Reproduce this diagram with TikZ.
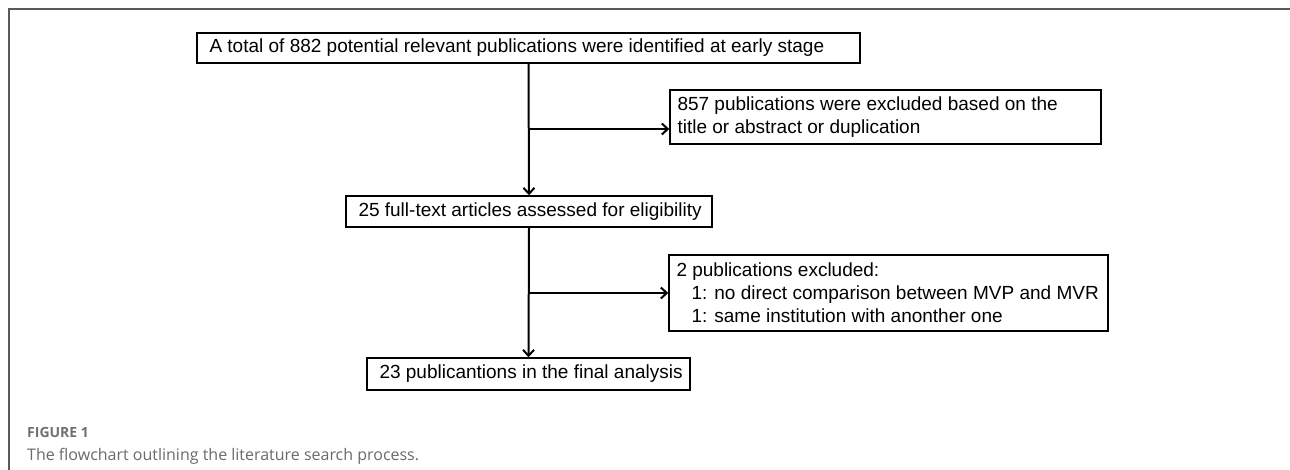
\documentclass[tikz,border=0pt]{standalone}
\usepackage{fontspec}
\setmainfont{Liberation Sans}
\newfontfamily\capfont{Open Sans}
\usetikzlibrary{arrows.meta,calc}
\definecolor{framegray}{HTML}{5A5A5A}
\definecolor{capgray}{HTML}{707070}
\definecolor{captxt}{HTML}{6A6A6A}
\tikzset{
  flowbox/.style={draw=black, line width=1.4pt, rectangle, inner sep=0pt},
  flowtext/.style={anchor=west, inner sep=0pt, align=left, font=\fontsize{19}{23}\selectfont},
  arr/.style={line width=2pt, -{Straight Barb[length=6pt,width=11pt]}}
}
\begin{document}
\begin{tikzpicture}[x=1pt,y=-1pt]
\useasboundingbox (0,0) rectangle (1290,470);
\draw[framegray, line width=1.5pt] (9,470) -- (9,9) -- (1290,9);

% boxes
\node[flowbox, minimum width=663pt, minimum height=30pt] (top) at (528.5,48) {};
\node[flowbox, minimum width=431pt, minimum height=54pt] (exA) at (885.5,117) {};
\node[flowbox, minimum width=366pt, minimum height=31pt] (mid) at (529,211.5) {};
\node[flowbox, minimum width=439pt, minimum height=76pt] (exB) at (888.5,293) {};
\node[flowbox, minimum width=323pt, minimum height=32pt] (fin) at (528.5,374) {};

% texts
\node[flowtext] (topT) at ($(top.west)+(13,0)$)
  {A total of 882 potential relevant publications were identified at early stage};
\node[flowtext] (exAT) at ($(exA.west)+(8,0)$)
  {857 publications were excluded based on the\\title or abstract or duplication};
\node[flowtext] (midT) at ($(mid.west)+(13,0)$)
  {25 full-text articles assessed for eligibility};
\node[flowtext] (exBT) at ($(exB.west)+(8,0)$)
  {2 publications excluded:\\\hspace*{15pt}1: no direct comparison between MVP and MVR\\\hspace*{15pt}1: same institution with anonther one};
\node[flowtext] (finT) at ($(fin.west)+(13,0)$)
  {23 publicantions in the final analysis};

% connectors
\coordinate (b1) at (529,129);
\coordinate (b2) at (529,293);
\draw[arr] (top.south) -- (mid.north);
\draw[arr] (mid.south) -- (fin.north);
\draw[arr] (b1) -- (b1 -| exA.west);
\draw[arr] (b2) -- (b2 -| exB.west);

% caption
\node[anchor=base west, inner sep=0pt, text=capgray, font=\capfont\bfseries\fontsize{14}{16}\selectfont] (figlab) at (27,437) {FIGURE 1};
\node[anchor=base west, inner sep=0pt, text=captxt, font=\capfont\fontsize{16}{19}\selectfont] (figcap) at (27,460) {The flowchart outlining the literature search process.};
\end{tikzpicture}
\end{document}
